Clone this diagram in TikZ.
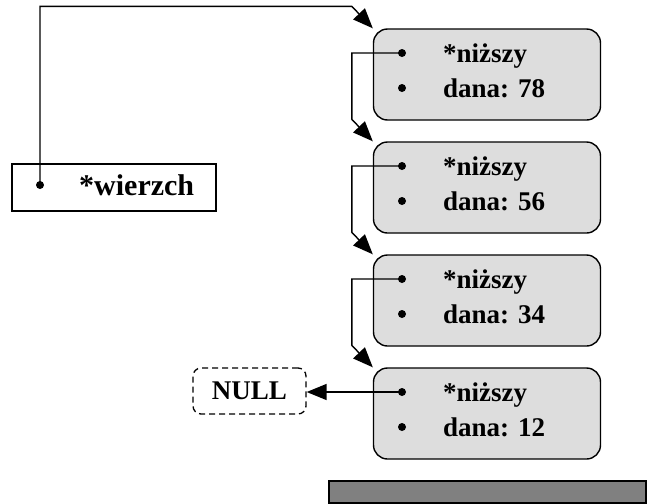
\documentclass[tikz,border=0pt]{standalone}
\usepackage{fontspec}
\setmainfont{Liberation Serif}
\usetikzlibrary{arrows.meta, positioning, calc}
\definecolor{boxfill}{RGB}{221,221,221}
\definecolor{basefill}{RGB}{128,128,128}

\tikzset{
  elem/.style={draw, line width=1.4pt, rounded corners=14pt, fill=boxfill,
    minimum width=227pt, minimum height=91pt, inner sep=0pt},
  dot/.style={circle, fill, inner sep=0pt, minimum size=8pt},
  lnk/.style={line width=1.4pt, -{Triangle[length=20pt,width=16pt]}},
  lbl/.style={anchor=base west, inner sep=0pt, font=\fontsize{27}{30}\selectfont\bfseries},
}

\begin{document}
\begin{tikzpicture}[x=1pt, y=-1pt]
  \useasboundingbox (0,0) rectangle (649,504);
  % wierzcholek stosu
  \node[draw, line width=1.4pt, minimum width=204pt, minimum height=47pt, inner sep=0pt] (stos) at (114,187.5) {};
  \node[dot] (w) at (40,185) {};
  \node[lbl, font=\fontsize{30}{32}\selectfont\bfseries] (wlab) at (79,195) {*wierzch};
  % elementy stosu
  \foreach \i/\yy/\val in {1/29/78, 2/142/56, 3/255/34, 4/368/12}{
    \node[elem] (el\i) at (487,\yy+45.5) {};
    \node[dot] (nx\i) at (402,\yy+24) {};
    \node[dot] (dn\i) at (402,\yy+59) {};
    \node[lbl] (tn\i) at (443,\yy+33) {*niższy};
    \node[lbl] (td\i) at (443,\yy+68) {dana: \val};
  }
  \node[draw, dashed, dash pattern=on 6pt off 4pt, line width=1.3pt, rounded corners=8pt,
    minimum width=113pt, minimum height=46pt, inner sep=0pt,
    font=\fontsize{27}{30}\selectfont\bfseries] (null) at (249.5,391) {NULL};
  % wskazniki
  \draw[lnk] (w.center) |- ($(el1.north west)+(-21,-22)$) -- (el1.north west);
  \foreach \i/\j in {1/2, 2/3, 3/4}
    \draw[lnk] (nx\i.center) -| ($(el\j.north west)+(-21,-22)$) -- (el\j.north west);
  \draw[lnk] (nx4.center) -- (nx4 -| null.east);
  % podstawa
  \draw[line width=1.3pt, fill=basefill] (329,481) rectangle (646,503);
\end{tikzpicture}
\end{document}
